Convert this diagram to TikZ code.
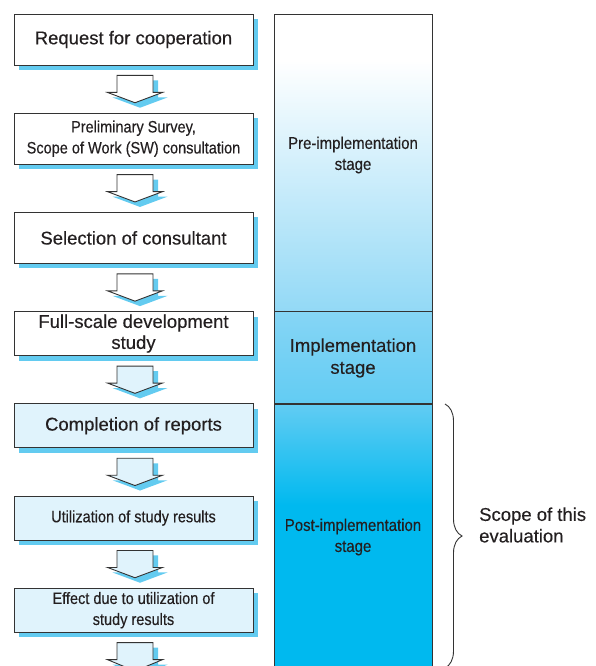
\documentclass[tikz,border=0pt]{standalone}
\usepackage{fontspec}
\setmainfont{Liberation Sans}[FakeBold=0.3]
\newfontfamily\narrowfont{Liberation Sans}[FakeStretch=0.88, FakeBold=0.3]
\usetikzlibrary{positioning,shadows,calc,decorations.pathreplacing}

\definecolor{inkgray}{HTML}{231F20}
\definecolor{linegray}{HTML}{333333}
\definecolor{shadowblue}{HTML}{63CBF0}
\definecolor{paleblue}{HTML}{E0F3FC}
\definecolor{preblue}{HTML}{93D9F6}
\definecolor{implblue}{HTML}{86D5F5}
\definecolor{impllow}{HTML}{62CCF3}
\definecolor{postblue}{HTML}{00B9EF}

\tikzset{
  stepbox/.style={draw=linegray, line width=0.9pt, fill=white,
    minimum width=239pt, inner sep=0pt, align=center, text=inkgray,
    font=\fontsize{18.5}{21}\selectfont,
    drop shadow={shadow xshift=5pt, shadow yshift=-5pt, fill=shadowblue, opacity=1}},
  narrow/.style={font=\narrowfont\fontsize{16.5}{21}\selectfont},
  tall/.style={minimum height=51pt},
  short/.style={minimum height=44pt},
  downarrow/.style={draw=linegray, line width=0.9pt, line join=miter,
    drop shadow={shadow xshift=5pt, shadow yshift=-5pt, fill=shadowblue, opacity=1}},
  stagelabel/.style={align=center, text=inkgray, inner sep=0pt}
}

% hollow block arrow from one box down to the next
\newcommand{\flowarrow}[3]{%
  \filldraw[downarrow, fill=#3]
    let \p1=(#1), \p2=(#2), \n1={\x1+1.5pt}, \n2={\y1-10pt}, \n3={\y2+10pt} in
    ({\n1-18pt},\n2) -- ({\n1+18pt},\n2) -- ({\n1+18pt},{\n2-17pt})
    -- ({\n1+27.5pt},{\n2-17pt}) -- (\n1,\n3) -- ({\n1-27.5pt},{\n2-17pt})
    -- ({\n1-18pt},{\n2-17pt}) -- cycle;
}

\begin{document}
\begin{tikzpicture}[x=1pt, y=-1pt, node distance=47.3pt]
  \useasboundingbox (0,0) rectangle (595,666);

  % Stage column
  \coordinate (coltop) at (274,14);
  \coordinate (colbot) at (432,672);
  \fill[white] (coltop) rectangle (432,60);
  \shade[top color=white, bottom color=preblue] (274,60) rectangle (432,311);
  \shade[top color=implblue, bottom color=impllow] (274,311) rectangle (432,404);
  \shade[top color=impllow, bottom color=postblue] (274,404) rectangle (432,505);
  \fill[postblue] (274,505) rectangle (colbot);
  \draw[linegray, line width=0.9pt] (coltop) rectangle (colbot);
  \draw[linegray, line width=0.9pt] (274,311) -- (432,311);
  \draw[linegray, line width=1.2pt] (274,404) -- (432,404);

  \node[stagelabel, font=\narrowfont\fontsize{17}{21}\selectfont] (pre) at (353,155)
    {Pre-implementation\\stage};
  \node[stagelabel, font=\fontsize{18.5}{22}\selectfont] (impl) at (353,358)
    {Implementation\\stage};
  \node[stagelabel, font=\narrowfont\fontsize{17}{21}\selectfont] (post) at (353,537)
    {Post-implementation\\stage};

  % Steps
  \node[stepbox, tall] (request) at (133.5,39.5) {Request for cooperation};
  \node[stepbox, tall, narrow, below=of request] (survey)
    {Preliminary Survey,\\Scope of Work (SW) consultation};
  \node[stepbox, tall, below=of survey] (select) {Selection of consultant};
  \node[stepbox, short, below=of select] (study) {Full-scale development\\study};
  \node[stepbox, short, fill=paleblue, below=of study] (reports) {Completion of reports};
  \node[stepbox, short, narrow, fill=paleblue, below=of reports] (use)
    {Utilization of study results};
  \node[stepbox, short, narrow, fill=paleblue, below=of use] (effect)
    {Effect due to utilization of\\study results};
  \coordinate (next) at (133.5,681);

  \flowarrow{request.south}{survey.north}{white}
  \flowarrow{survey.south}{select.north}{white}
  \flowarrow{select.south}{study.north}{white}
  \flowarrow{study.south}{reports.north}{paleblue}
  \flowarrow{reports.south}{use.north}{paleblue}
  \flowarrow{use.south}{effect.north}{paleblue}
  \flowarrow{effect.south}{next}{paleblue}

  % Scope brace
  \coordinate (scopetop) at (445,404);
  \coordinate (scopebot) at (445,668);
  \draw[linegray, line width=0.9pt, decorate, decoration={brace, amplitude=17pt}]
    (scopetop) -- (scopebot);
  \node[align=left, anchor=west, inner sep=0pt, text=inkgray,
    font=\fontsize{18.5}{21.5}\selectfont] (scope) at (479,525)
    {Scope of this\\evaluation};
\end{tikzpicture}
\end{document}
